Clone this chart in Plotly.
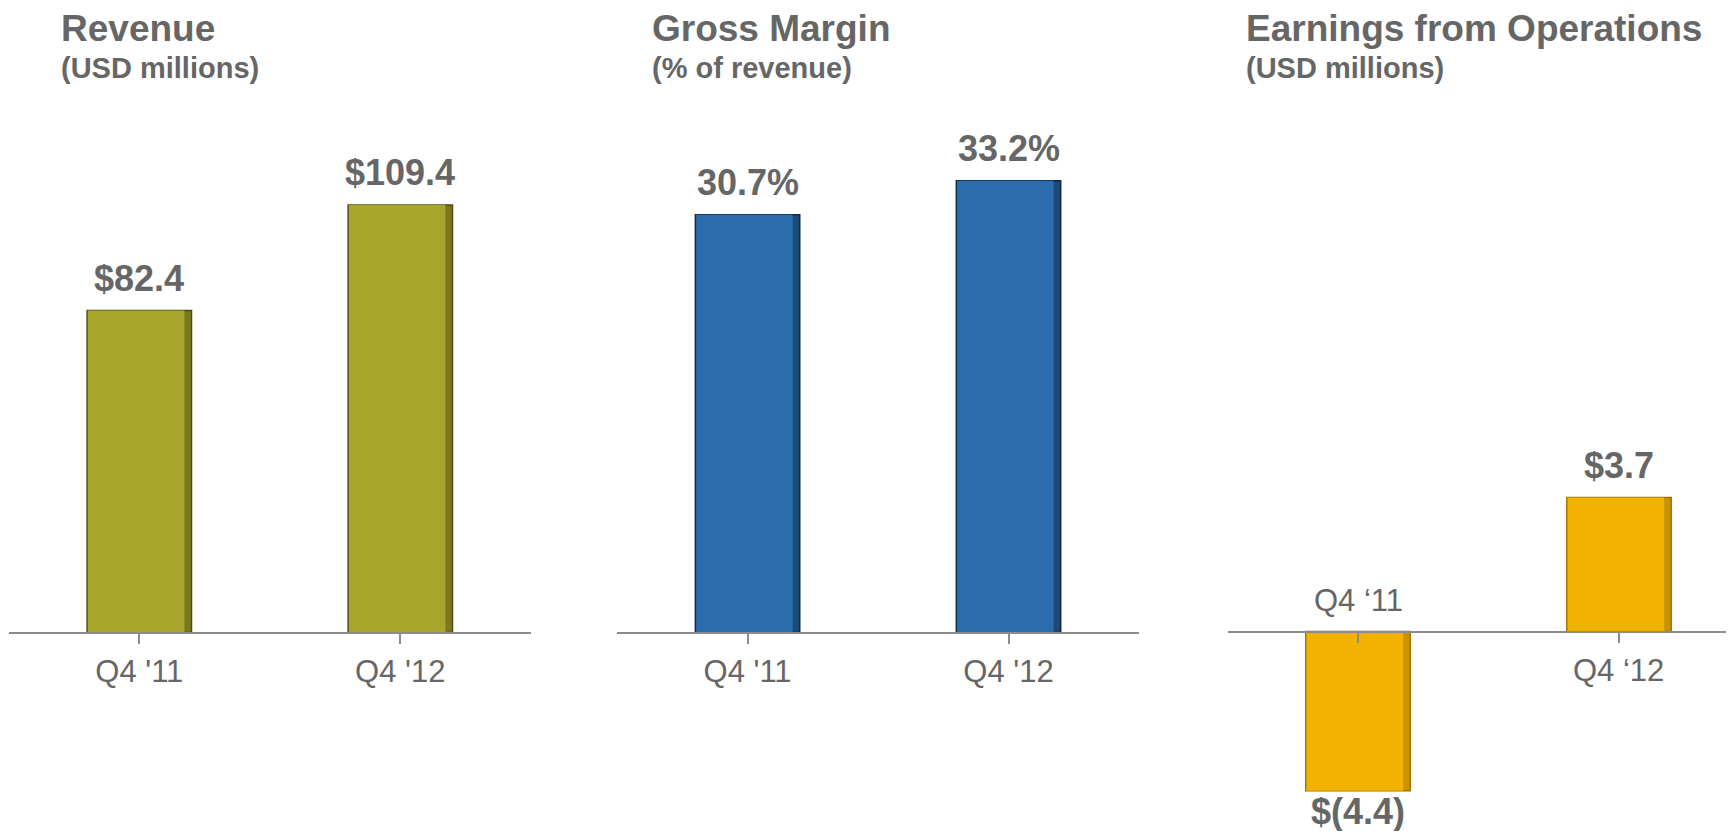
import plotly.graph_objects as go

# ---- data ----
categories = ["Q4 '11", "Q4 '12"]
categories_eo = ["Q4 \u201811", "Q4 \u201812"]
revenue = [82.4, 109.4]
gross_margin = [30.7, 33.2]
earnings_ops = [-4.4, 3.7]

titles = ["Revenue", "Gross Margin", "Earnings from Operations"]
subtitles = ["(USD millions)", "(% of revenue)", "(USD millions)"]

# page body has an 8px margin, so the figure is 16px smaller than the window
W, H = 1718, 823
FONT = "Liberation Sans, Arial, Helvetica, sans-serif"
TXT = "#666666"
AXC = "#8c8c8c"

def fmt_usd(v):
    return f"${v:.1f}" if v >= 0 else f"$({abs(v):.1f})"

def fmt_pct(v):
    return f"{v:.1f}%"

fig = go.Figure()

panels = [
    dict(y=revenue, cats=categories, color="#A8A52C", edge="#7a7820", line="#4f4e12", fmt=fmt_usd,
         xdom=[0.8 / W, 522.8 / W], xr=[-0.5, 1.5], yr=[-50.75, 159.78], zero=624.6, tx=50.6),
    dict(y=gross_margin, cats=categories, color="#2B6CAD", edge="#1d4a78", line="#112a45", fmt=fmt_pct,
         xdom=[609.1 / W, 1131.0 / W], xr=[-0.5, 1.5], yr=[-14.58, 45.89], zero=624.6, tx=642.0),
    dict(y=earnings_ops, cats=categories_eo, color="#F2B300", edge="#c99400", line="#9c7400", fmt=fmt_usd,
         xdom=[1219.5 / W, 1.0], xr=[-0.5, 1.41], yr=[-5.51, 17.22], zero=623.5, tx=1236.0),
]

annotations = []
for i, p in enumerate(panels, start=1):
    xa = "x" if i == 1 else f"x{i}"
    ya = "y" if i == 1 else f"y{i}"
    xs = list(range(len(p["y"])))
    # darker base bar (forms the shaded right edge)
    fig.add_trace(go.Bar(
        x=xs, y=p["y"], xaxis=xa, yaxis=ya,
        marker=dict(color=p["edge"], line=dict(color=p["line"], width=1.5)),
        width=0.4, offset=-0.2, showlegend=False, hoverinfo="skip",
    ))
    # main face of the bar
    fig.add_trace(go.Bar(
        x=xs, y=p["y"], xaxis=xa, yaxis=ya,
        marker=dict(color=p["color"], line=dict(width=0)),
        width=0.37, offset=-0.197, showlegend=False, hoverinfo="skip",
    ))
    pos = 1 - p["zero"] / H
    common_x = dict(domain=p["xdom"], range=p["xr"], anchor="free", position=pos,
                    showline=True, linecolor=AXC, linewidth=2,
                    ticks="outside", tickson="boundaries", ticklen=10, tickcolor=AXC, tickwidth=2,
                    showgrid=False, zeroline=False, fixedrange=True,
                    tickmode="array", tickvals=xs,
                    tickfont=dict(family=FONT, size=31, color=TXT))
    if i < 3:
        common_x.update(ticktext=p["cats"], ticklabelstandoff=1)
    else:
        common_x.update(ticktext=["", ""], showticklabels=False)
    common_y = dict(domain=[0, 1], range=p["yr"], visible=False, showgrid=False,
                    zeroline=False, fixedrange=True, anchor=xa)
    key = "" if i == 1 else str(i)
    fig.update_layout({f"xaxis{key}": common_x, f"yaxis{key}": common_y})

    # value labels
    for j, v in enumerate(p["y"]):
        annotations.append(dict(
            x=j, y=v, xref=xa, yref=ya, text=p["fmt"](v), showarrow=False,
            yanchor="middle", yshift=32 if v >= 0 else -21,
            font=dict(family=FONT, size=36, color=TXT, weight="bold"),
        ))
    # titles
    annotations.append(dict(
        x=p["tx"] / W, y=1 - 21 / H, xref="paper", yref="paper", text=titles[i - 1],
        showarrow=False, xanchor="left", yanchor="middle",
        font=dict(family=FONT, size=37, color=TXT, weight="bold"),
    ))
    annotations.append(dict(
        x=p["tx"] / W, y=1 - 60 / H, xref="paper", yref="paper", text=subtitles[i - 1],
        showarrow=False, xanchor="left", yanchor="middle",
        font=dict(family=FONT, size=29, color=TXT, weight="bold"),
    ))

# category labels for earnings panel: above axis for negative bar, below for positive
for j, v in enumerate(earnings_ops):
    annotations.append(dict(
        x=j, y=0, xref="x3", yref="y3", text=categories_eo[j], showarrow=False,
        yanchor="middle", yshift=31 if v < 0 else -39,
        font=dict(family=FONT, size=31, color=TXT),
    ))

fig.update_layout(
    width=W, height=H, margin=dict(l=0, r=0, t=0, b=0),
    paper_bgcolor="white", plot_bgcolor="rgba(0,0,0,0)",
    barmode="overlay",
    annotations=annotations, showlegend=False,
)

fig.write_html("out.html")
